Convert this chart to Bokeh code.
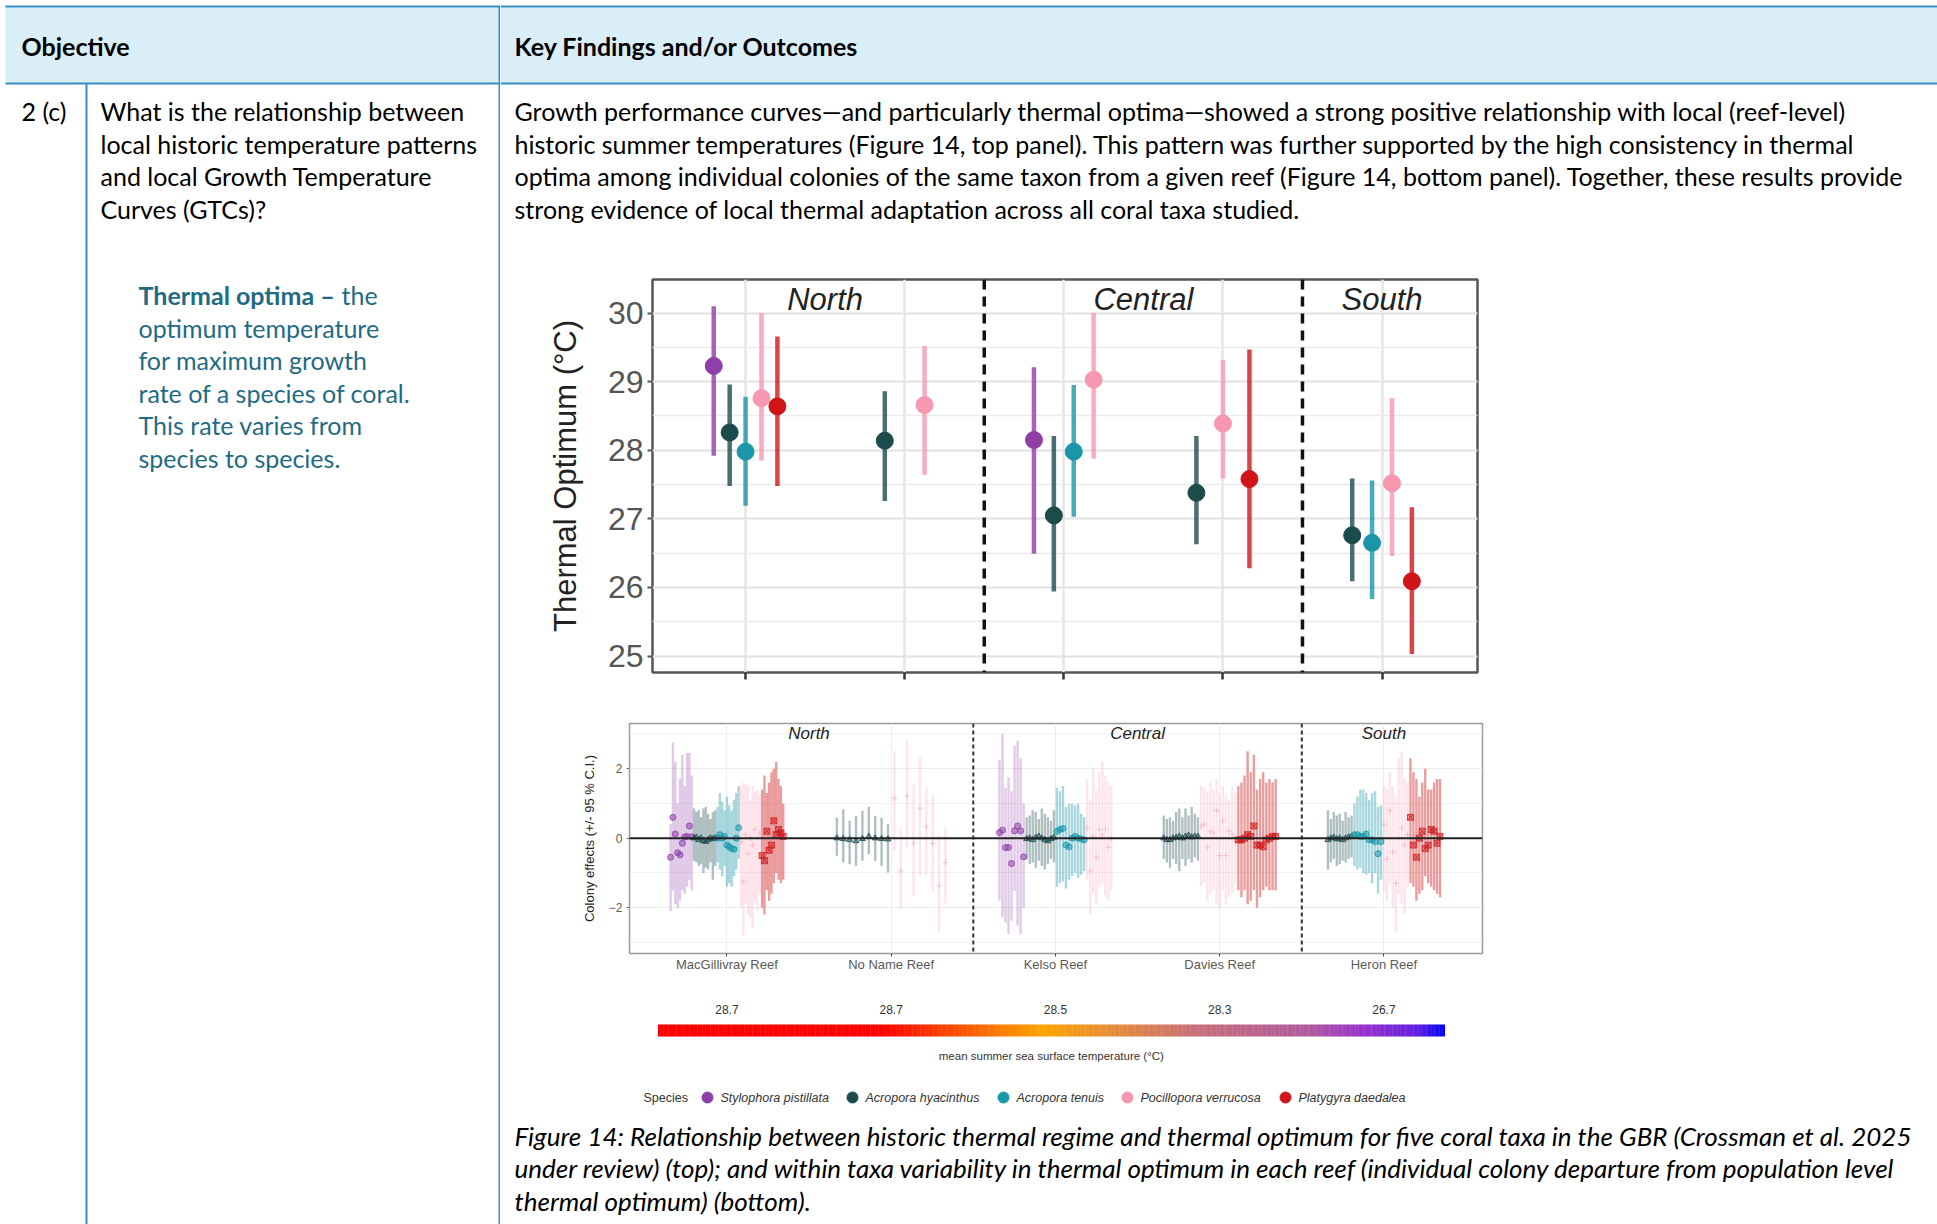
from bokeh.plotting import figure
from bokeh.layouts import row, column
from bokeh.models import Range1d, FixedTicker, SingleIntervalTicker, Span
from bokeh.core.properties import value
from bokeh.embed import file_html
from bokeh.resources import INLINE

# ---------------- data ----------------
REEFS = ["MacGillivray Reef", "No Name Reef", "Kelso Reef", "Davies Reef", "Heron Reef"]
REGIONS = ["North", "North", "Central", "Central", "South"]
SST = [28.7, 28.7, 28.5, 28.3, 26.7]
SPECIES = ["Stylophora pistillata", "Acropora hyacinthus", "Acropora tenuis",
           "Pocillopora verrucosa", "Platygyra daedalea"]
SPECIES_COLORS = ["#8e3fa8", "#1c4b4c", "#1a96a8", "#f797b0", "#cf1518"]

# top panel: population-level thermal optimum with CI
TOP_REEF = [0, 0, 0, 0, 0, 1, 1, 2, 2, 2, 2, 3, 3, 3, 4, 4, 4, 4]
TOP_SPECIES = [0, 1, 2, 3, 4, 1, 3, 0, 1, 2, 3, 1, 3, 4, 1, 2, 3, 4]
TOP_OPT = [29.23, 28.26, 27.98, 28.76, 28.64, 28.14, 28.66, 28.15, 27.05, 27.98, 29.03,
           27.38, 28.39, 27.58, 26.76, 26.65, 27.52, 26.09]
TOP_LO = [27.92, 27.48, 27.19, 27.85, 27.48, 27.26, 27.64, 26.49, 25.94, 27.03, 27.88,
          26.63, 27.59, 26.28, 26.09, 25.83, 26.46, 25.03]
TOP_HI = [30.10, 28.96, 28.78, 30.00, 29.66, 28.86, 29.52, 29.21, 28.21, 28.95, 30.00,
          28.21, 29.32, 29.47, 27.59, 27.56, 28.76, 27.17]

# bottom panel: colony effects (estimate, lower, upper) per reef x species
MAC_STY_EST = [-0.55, 0.60, 0.12, -0.42, -0.48, -0.15, 0.03, 0.05, 0.35, 0.04]
MAC_STY_LO = [-2.1, -1.5, -1.9, -2.0, -1.8, -1.5, -1.6, -1.4, -1.2, -1.5]
MAC_STY_HI = [0.4, 2.75, 2.2, 1.0, 1.7, 2.4, 1.5, 2.45, 2.45, 1.8]
MAC_AHY_EST = [0.0, 0.02, -0.05, 0.0, -0.08, -0.1, -0.05, 0.0, -0.02, 0.0]
MAC_AHY_LO = [-0.65, -0.7, -0.8, -0.75, -1.0, -0.85, -0.9, -0.7, -1.2, -0.8]
MAC_AHY_HI = [0.85, 0.75, 0.8, 0.6, 0.85, 0.9, 0.7, 0.55, 0.75, 0.8]
MAC_ATE_EST = [0.0, 0.1, 0.0, 0.05, -0.2, -0.25, -0.3, -0.32, 0.0, 0.3]
MAC_ATE_LO = [-0.7, -0.9, -1.1, -0.8, -1.4, -1.3, -1.4, -1.1, -0.9, -0.6]
MAC_ATE_HI = [0.9, 1.3, 1.05, 0.8, 1.2, 0.95, 0.8, 1.1, 1.3, 1.5]
MAC_PVE_EST = [-0.1, -1.25, 0.1, -0.45, 0.0, -0.2, 0.25, 0.0, 0.15]
MAC_PVE_LO = [-2.0, -2.8, -1.9, -2.2, -2.3, -2.6, -1.8, -2.1, -1.6]
MAC_PVE_HI = [1.5, 1.6, 1.55, 1.5, 1.1, 1.5, 1.35, 1.4, 1.25]
MAC_PDA_EST = [-0.5, -0.65, 0.2, -0.35, -0.2, 0.5, 0.1, 0.25, 0.15, 0.05]
MAC_PDA_LO = [-2.0, -2.2, -1.5, -1.8, -1.6, -1.3, -1.0, -1.2, -1.3, -1.2]
MAC_PDA_HI = [1.4, 1.8, 1.3, 1.6, 1.9, 2.0, 2.2, 1.7, 1.5, 1.0]
NON_AHY_EST = [0.0, -0.02, -0.05, -0.08, -0.02, 0.05, 0.0, -0.02, -0.03]
NON_AHY_LO = [-0.51, -0.70, -0.75, -0.80, -0.65, -0.46, -0.65, -0.80, -0.99]
NON_AHY_HI = [0.59, 0.83, 0.50, 0.64, 0.79, 0.90, 0.64, 0.59, 0.40]
NON_PVE_EST = [1.15, -0.94, 1.22, -0.15, 0.86, 0.33, -0.15, -1.37, -0.70]
NON_PVE_LO = [-0.36, -2.04, -0.27, -1.66, -1.08, -1.04, -1.52, -2.67, -1.88]
NON_PVE_HI = [2.51, 0.26, 2.80, 1.55, 2.32, 1.46, 1.22, 0.07, 0.29]
KEL_STY_EST = [0.16, 0.23, -0.27, -0.27, -0.73, 0.21, 0.35, 0.21, -0.54]
KEL_STY_LO = [-1.8, -2.28, -2.43, -2.76, -2.38, -1.52, -2.52, -2.76, -2.0]
KEL_STY_HI = [2.25, 3.0, 1.45, 1.75, 1.35, 2.65, 2.8, 2.3, 1.0]
KEL_AHY_EST = [-0.02, 0.0, -0.05, 0.02, 0.05, 0.0, -0.05, -0.08, -0.02, 0.02]
KEL_AHY_LO = [-0.6, -0.75, -0.7, -0.85, -0.65, -0.8, -0.9, -0.75, -0.6, -0.7]
KEL_AHY_HI = [0.6, 0.65, 0.8, 0.75, 0.55, 0.85, 0.7, 0.6, 0.5, 0.8]
KEL_ATE_EST = [0.2, 0.25, 0.28, -0.2, -0.25, 0.0, 0.05, 0.0, -0.02, -0.05]
KEL_ATE_LO = [-1.4, -1.3, -1.25, -1.45, -1.2, -1.1, -1.0, -1.15, -1.05, -0.95]
KEL_ATE_HI = [1.45, 1.35, 1.5, 0.9, 1.0, 1.0, 0.95, 1.0, 0.7, 0.6]
KEL_PVE_EST = [0.3, -0.95, 0.05, -0.55, 0.25, 0.1, 0.26, -0.27, 0.0]
KEL_PVE_LO = [-1.2, -2.2, -1.6, -1.9, -1.4, -1.3, -1.7, -1.8, -1.5]
KEL_PVE_HI = [1.7, 1.1, 2.0, 1.4, 1.9, 2.2, 1.8, 1.6, 1.5]
DAV_AHY_EST = [0.0, -0.05, -0.05, 0.0, 0.02, 0.05, 0.0, 0.05, 0.08, 0.03, 0.05, 0.05]
DAV_AHY_LO = [-0.6, -0.7, -0.85, -0.6, -0.75, -0.95, -0.6, -0.8, -0.6, -0.7, -0.55, -0.65]
DAV_AHY_HI = [0.65, 0.55, 0.6, 0.5, 0.75, 0.85, 0.6, 0.85, 0.65, 0.9, 0.7, 0.6]
DAV_PVE_EST = [0.35, 0.4, -0.25, 0.2, 0.15, 0.8, -0.5, 0.5, -0.5, 0.2, 0.1, -0.1]
DAV_PVE_LO = [-1.4, -1.3, -1.8, -1.6, -1.5, -1.9, -2.0, -1.5, -1.9, -1.7, -1.6, -1.3]
DAV_PVE_HI = [1.5, 1.45, 1.3, 1.6, 1.4, 1.7, 1.3, 1.5, 1.2, 1.1, 1.5, 1.3]
DAV_PDA_EST = [-0.05, -0.05, 0.0, 0.1, 0.05, 0.35, -0.2, -0.2, -0.25, -0.05, 0.0, 0.05, 0.05]
DAV_PDA_LO = [-1.5, -1.7, -1.5, -1.9, -1.8, -1.5, -2.0, -1.7, -1.5, -1.4, -1.5, -1.5, -1.5]
DAV_PDA_HI = [1.5, 1.6, 1.8, 2.5, 1.9, 2.4, 1.4, 1.7, 1.9, 1.6, 1.7, 1.6, 1.7]
HER_AHY_EST = [-0.05, 0.0, 0.02, -0.03, 0.0, -0.05, 0.0, 0.03, 0.05]
HER_AHY_LO = [-0.9, -0.7, -0.6, -0.8, -0.75, -0.65, -0.7, -0.6, -0.55]
HER_AHY_HI = [0.8, 0.55, 0.75, 0.65, 0.7, 0.5, 0.75, 0.6, 0.65]
HER_ATE_EST = [0.1, 0.1, 0.05, 0.05, 0.12, -0.05, -0.05, -0.1, -0.45, -0.1]
HER_ATE_LO = [-0.8, -0.9, -0.85, -1.0, -1.05, -1.0, -1.3, -1.0, -1.6, -1.2]
HER_ATE_HI = [1.0, 1.2, 1.4, 1.4, 1.3, 1.1, 1.3, 1.35, 0.9, 0.95]
HER_PVE_EST = [0.4, -0.6, 0.8, -0.4, -1.3, 0.0, 0.3, -0.2, 0.1]
HER_PVE_LO = [-1.5, -1.8, -1.3, -2.0, -2.7, -1.6, -1.9, -2.2, -1.4]
HER_PVE_HI = [1.5, 1.4, 1.9, 1.5, 1.2, 2.3, 2.5, 1.7, 1.6]
HER_PDA_EST = [0.6, -0.2, -0.55, 0.0, 0.2, -0.3, -0.2, 0.25, 0.2, -0.15, 0.05]
HER_PDA_LO = [-1.3, -1.4, -1.8, -1.6, -1.5, -1.1, -1.3, -1.4, -1.5, -1.6, -1.7]
HER_PDA_HI = [2.3, 1.9, 1.7, 1.2, 1.6, 2.0, 1.4, 1.4, 1.6, 1.7, 1.7]

COLONY_GROUPS = [
    (0, 0, MAC_STY_EST, MAC_STY_LO, MAC_STY_HI), (0, 1, MAC_AHY_EST, MAC_AHY_LO, MAC_AHY_HI),
    (0, 2, MAC_ATE_EST, MAC_ATE_LO, MAC_ATE_HI), (0, 3, MAC_PVE_EST, MAC_PVE_LO, MAC_PVE_HI),
    (0, 4, MAC_PDA_EST, MAC_PDA_LO, MAC_PDA_HI),
    (1, 1, NON_AHY_EST, NON_AHY_LO, NON_AHY_HI), (1, 3, NON_PVE_EST, NON_PVE_LO, NON_PVE_HI),
    (2, 0, KEL_STY_EST, KEL_STY_LO, KEL_STY_HI), (2, 1, KEL_AHY_EST, KEL_AHY_LO, KEL_AHY_HI),
    (2, 2, KEL_ATE_EST, KEL_ATE_LO, KEL_ATE_HI), (2, 3, KEL_PVE_EST, KEL_PVE_LO, KEL_PVE_HI),
    (3, 1, DAV_AHY_EST, DAV_AHY_LO, DAV_AHY_HI), (3, 3, DAV_PVE_EST, DAV_PVE_LO, DAV_PVE_HI),
    (3, 4, DAV_PDA_EST, DAV_PDA_LO, DAV_PDA_HI),
    (4, 1, HER_AHY_EST, HER_AHY_LO, HER_AHY_HI), (4, 2, HER_ATE_EST, HER_ATE_LO, HER_ATE_HI),
    (4, 3, HER_PVE_EST, HER_PVE_LO, HER_PVE_HI), (4, 4, HER_PDA_EST, HER_PDA_LO, HER_PDA_HI),
]

# colour bar stops (position on reef axis, colour)
GRAD_POS = [0.58, 1.93, 2.92, 3.83, 4.55, 4.87, 5.2, 5.37]
GRAD_COL = ["#ff0000", "#ff0000", "#ffa500", "#c87078", "#b05aa0", "#9932cc", "#6020e0", "#0000ff"]

# ---------------- text ----------------
HEAD_LEFT = "Objective"
HEAD_RIGHT = "Key Findings and/or Outcomes"
OBJ_ID = "2 (c)"
OBJ_LINES = ["What is the relationship between", "local historic temperature patterns",
             "and local Growth Temperature", "Curves (GTCs)?"]
DEF_BOLD = "Thermal optima \u2013"
DEF_FIRST = "the"
DEF_LINES = ["optimum temperature", "for maximum growth", "rate of a species of coral.",
             "This rate varies from", "species to species."]
PARA_LINES = [
    "Growth performance curves\u2014and particularly thermal optima\u2014showed a strong positive relationship with local (reef-level)",
    "historic summer temperatures (Figure 14, top panel). This pattern was further supported by the high consistency in thermal",
    "optima among individual colonies of the same taxon from a given reef (Figure 14, bottom panel). Together, these results provide",
    "strong evidence of local thermal adaptation across all coral taxa studied.",
]
CAPTION_LINES = [
    "Figure 14: Relationship between historic thermal regime and thermal optimum for five coral taxa in the GBR (Crossman et al. 2025",
    "under review) (top); and within taxa variability in thermal optimum in each reef (individual colony departure from population level",
    "thermal optimum) (bottom).",
]

LINE_BLUE = "#3590c4"
HEAD_BG = "#daeef7"
TEAL_TXT = "#1f6b85"
BODY_FONT = "Lato"
BODY_SIZE = "25px"
CAPTION_SIZE = "26px"
CHART_FONT = "Liberation Sans"
LINE_Y = [110.5, 143, 175.5, 208]


def blank(width, height, xr, yr):
    p = figure(width=width, height=height, x_range=Range1d(*xr), y_range=Range1d(*yr),
               output_backend="svg", toolbar_location=None, min_border=0)
    p.axis.visible = False
    p.grid.visible = False
    p.outline_line_color = None
    p.background_fill_color = "white"
    p.border_fill_color = "white"
    p.frame_align = False
    return p


def txt(p, xs, ys, texts, size=BODY_SIZE, color="#000000", style="normal", font=BODY_FONT,
        align="left", baseline="middle", angle=0):
    p.text(x=xs, y=ys, text=texts, text_font=value(font), text_font_size=value(size),
           text_font_style=style, text_color=color, text_align=align, text_baseline=baseline,
           angle=angle)


# ---------------- left column (page x 0..500) ----------------
left = blank(500, 1224, (0, 500), (1224, 0))
left.quad(left=[5], right=[500], top=[6], bottom=[83], fill_color=HEAD_BG, line_color=None)
left.segment(x0=[5, 5, 499, 86], y0=[6, 83, 6, 83], x1=[500, 500, 499, 86], y1=[6, 83, 1224, 1224],
             line_color=LINE_BLUE, line_width=2)
txt(left, [21], [45], [HEAD_LEFT], style="bold")
txt(left, [21], [LINE_Y[0]], [OBJ_ID])
txt(left, [100] * len(OBJ_LINES), LINE_Y, OBJ_LINES)
DEF_Y = [294.5 + 32.5 * i for i in range(len(DEF_LINES) + 1)]
txt(left, [138], [DEF_Y[0]], [DEF_BOLD], color=TEAL_TXT, style="bold")
txt(left, [341], [DEF_Y[0]], [DEF_FIRST], color=TEAL_TXT)
txt(left, [138] * len(DEF_LINES), DEF_Y[1:], DEF_LINES, color=TEAL_TXT)

# ---------------- right top (page x 500..1937, y 0..247) ----------------
rtop = blank(1437, 247, (500, 1937), (247, 0))
rtop.quad(left=[500], right=[1937], top=[6], bottom=[83], fill_color=HEAD_BG, line_color=None)
rtop.segment(x0=[500, 500], y0=[6, 83], x1=[1937, 1937], y1=[6, 83], line_color=LINE_BLUE, line_width=2)
txt(rtop, [514], [45], [HEAD_RIGHT], style="bold")
txt(rtop, [514] * len(PARA_LINES), LINE_Y, PARA_LINES)

# ---------------- top chart ----------------
reef_x = [i + 1 for i in range(len(REEFS))]
top_x = []
for k in range(len(TOP_OPT)):
    r = TOP_REEF[k]
    present = [TOP_SPECIES[j] for j in range(len(TOP_OPT)) if TOP_REEF[j] == r]
    n = len(present)
    pos = present.index(TOP_SPECIES[k])
    top_x.append(reef_x[r] + (pos - (n - 1) / 2) * (0.5 / n))
top_col = [SPECIES_COLORS[s] for s in TOP_SPECIES]

region_names = []
for g in REGIONS:
    if g not in region_names:
        region_names.append(g)
region_centers = [sum(reef_x[i] for i in range(len(REEFS)) if REGIONS[i] == g) /
                  sum(1 for i in range(len(REEFS)) if REGIONS[i] == g) for g in region_names]
region_breaks = [reef_x[i] + 0.5 for i in range(len(REEFS) - 1) if REGIONS[i] != REGIONS[i + 1]]

pt = figure(width=1437, height=453, x_range=Range1d(0.415, 5.6), y_range=Range1d(24.76, 30.49),
            output_backend="svg", toolbar_location=None,
            min_border_left=152, min_border_right=460, min_border_top=32, min_border_bottom=28)
pt.frame_align = False
pt.background_fill_color = "white"
pt.border_fill_color = "white"
pt.outline_line_color = "#555555"
pt.outline_line_width = 2.5
pt.xaxis.ticker = FixedTicker(ticks=reef_x)
pt.xaxis.major_label_overrides = {x: "" for x in reef_x}
pt.xaxis.major_label_text_font_size = "8px"
pt.xaxis.axis_line_color = None
pt.xaxis.major_tick_line_color = "#333333"
pt.xaxis.major_tick_line_width = 2.5
pt.xaxis.major_tick_out = 7
pt.xaxis.major_tick_in = 0
pt.xaxis.minor_tick_line_color = None
pt.yaxis.ticker = SingleIntervalTicker(interval=1, num_minor_ticks=2)
pt.yaxis.axis_line_color = None
pt.yaxis.major_tick_line_color = "#555555"
pt.yaxis.major_tick_line_width = 2
pt.yaxis.major_tick_out = 5
pt.yaxis.major_tick_in = 0
pt.yaxis.minor_tick_line_color = None
pt.yaxis.major_label_text_font = CHART_FONT
pt.yaxis.major_label_text_font_size = "32px"
pt.yaxis.major_label_text_color = "#555555"
pt.yaxis.major_label_standoff = 4
pt.yaxis.axis_label = "Thermal Optimum (\u00b0C)"
pt.yaxis.axis_label_text_font = CHART_FONT
pt.yaxis.axis_label_text_font_size = "31px"
pt.yaxis.axis_label_text_font_style = "normal"
pt.yaxis.axis_label_text_color = "#222222"
pt.yaxis.axis_label_standoff = 22
pt.ygrid.grid_line_color = "#e3e3e3"
pt.ygrid.grid_line_width = 2
pt.ygrid.minor_grid_line_color = "#ececec"
pt.ygrid.minor_grid_line_width = 1.5
pt.xgrid.grid_line_color = "#e6e6e6"
pt.xgrid.grid_line_width = 2.5
for b in region_breaks:
    pt.add_layout(Span(location=b, dimension="height", line_color="#111111", line_width=3.5,
                       line_dash="10 7"))
pt.segment(x0=top_x, y0=TOP_LO, x1=top_x, y1=TOP_HI, line_color=top_col, line_width=4.5, line_alpha=0.8)
pt.scatter(x=top_x, y=TOP_OPT, size=17, fill_color=top_col, line_color=top_col)
txt(pt, region_centers, [30.2] * len(region_names), region_names, size="31px", color="#222222",
    style="italic", font=CHART_FONT, align="center")

# ---------------- bottom chart ----------------
col_x, col_est, col_lo, col_hi, col_sp = [], [], [], [], []
for r in range(len(REEFS)):
    groups = [g for g in COLONY_GROUPS if g[0] == r]
    total = sum(len(g[2]) for g in groups)
    i = 0
    for g in groups:
        for j in range(len(g[2])):
            col_x.append(reef_x[r] - 0.35 + (i + 0.5) * 0.7 / total)
            col_est.append(g[2][j])
            col_lo.append(g[3][j])
            col_hi.append(g[4][j])
            col_sp.append(g[1])
            i += 1

pb = figure(width=1437, height=300, x_range=Range1d(0.407, 5.60), y_range=Range1d(-3.32, 3.30),
            output_backend="svg", toolbar_location=None,
            min_border_left=129, min_border_right=455, min_border_top=23, min_border_bottom=47)
pb.frame_align = False
pb.background_fill_color = "white"
pb.border_fill_color = "white"
pb.outline_line_color = "#9a9a9a"
pb.outline_line_width = 1.5
pb.xaxis.ticker = FixedTicker(ticks=reef_x)
pb.xaxis.major_label_overrides = {reef_x[i]: REEFS[i] for i in range(len(REEFS))}
pb.xaxis.major_label_text_font = CHART_FONT
pb.xaxis.major_label_text_font_size = "13px"
pb.xaxis.major_label_text_color = "#5a5a5a"
pb.xaxis.major_label_standoff = 0
pb.xaxis.axis_line_color = None
pb.xaxis.major_tick_line_color = "#444444"
pb.xaxis.major_tick_out = 3
pb.xaxis.major_tick_in = 0
pb.xaxis.minor_tick_line_color = None
pb.yaxis.ticker = SingleIntervalTicker(interval=2, num_minor_ticks=2)
pb.yaxis.axis_line_color = None
pb.yaxis.major_tick_line_color = "#666666"
pb.yaxis.major_tick_out = 3
pb.yaxis.major_tick_in = 0
pb.yaxis.minor_tick_line_color = None
pb.yaxis.major_label_text_font = CHART_FONT
pb.yaxis.major_label_text_font_size = "12px"
pb.yaxis.major_label_text_color = "#5a5a5a"
pb.yaxis.major_label_standoff = 3
pb.yaxis.axis_label = "Colony effects (+/- 95 % C.I.)"
pb.yaxis.axis_label_text_font = CHART_FONT
pb.yaxis.axis_label_text_font_size = "13px"
pb.yaxis.axis_label_text_font_style = "normal"
pb.yaxis.axis_label_text_color = "#222222"
pb.yaxis.axis_label_standoff = 9
pb.ygrid.grid_line_color = "#ececec"
pb.ygrid.minor_grid_line_color = "#f2f2f2"
pb.xgrid.grid_line_color = "#eeeeee"
for b in region_breaks:
    pb.add_layout(Span(location=b, dimension="height", line_color="#333333", line_width=2,
                       line_dash="4 3"))
BAR_ALPHA = [0.28, 0.35, 0.38, 0.25, 0.42]
MARKERS = ["circle", "triangle", "circle", "cross", "square_x"]
MARK_ALPHA = [0.85, 0.8, 0.85, 0.45, 0.7]
for s in range(len(SPECIES)):
    idx = [k for k in range(len(col_x)) if col_sp[k] == s]
    xs = [col_x[k] for k in idx]
    pb.segment(x0=xs, y0=[col_lo[k] for k in idx], x1=xs, y1=[col_hi[k] for k in idx],
               line_color=SPECIES_COLORS[s], line_width=2.4, line_alpha=BAR_ALPHA[s])
pb.add_layout(Span(location=0, dimension="width", line_color="#222222", line_width=2))
for s in range(len(SPECIES)):
    idx = [k for k in range(len(col_x)) if col_sp[k] == s]
    pb.scatter(x=[col_x[k] for k in idx], y=[col_est[k] for k in idx], marker=MARKERS[s], size=6,
               fill_color=SPECIES_COLORS[s], line_color=SPECIES_COLORS[s],
               fill_alpha=MARK_ALPHA[s] * 0.6, line_alpha=MARK_ALPHA[s])
txt(pb, region_centers, [3.0] * len(region_names), region_names, size="17px", color="#222222",
    style="italic", font=CHART_FONT, align="center")

# ---------------- colour bar ----------------
pc = figure(width=1437, height=70, x_range=Range1d(0.407, 5.60), y_range=Range1d(1070, 1000),
            output_backend="svg", toolbar_location=None,
            min_border_left=129, min_border_right=455, min_border_top=0, min_border_bottom=0)
pc.frame_align = False
pc.axis.visible = False
pc.grid.visible = False
pc.outline_line_color = None
pc.background_fill_color = "white"
pc.border_fill_color = "white"


def hex_rgb(h):
    return tuple(int(h[i:i + 2], 16) for i in (1, 3, 5))


NSLICE = 300
x0s, x1s, cols = [], [], []
for i in range(NSLICE):
    a = GRAD_POS[0] + (GRAD_POS[-1] - GRAD_POS[0]) * i / NSLICE
    b = GRAD_POS[0] + (GRAD_POS[-1] - GRAD_POS[0]) * (i + 1) / NSLICE
    m = (a + b) / 2
    for j in range(len(GRAD_POS) - 1):
        if GRAD_POS[j] <= m <= GRAD_POS[j + 1]:
            t = (m - GRAD_POS[j]) / (GRAD_POS[j + 1] - GRAD_POS[j])
            c0, c1 = hex_rgb(GRAD_COL[j]), hex_rgb(GRAD_COL[j + 1])
            c = tuple(int(round(c0[k] + (c1[k] - c0[k]) * t)) for k in range(3))
            break
    x0s.append(a)
    x1s.append(b + 0.002)
    cols.append("#%02x%02x%02x" % c)
pc.quad(left=x0s, right=x1s, top=[1024] * NSLICE, bottom=[1036] * NSLICE, fill_color=cols, line_color=None)
txt(pc, reef_x, [1009] * len(REEFS), ["%.1f" % v for v in SST], size="12px", color="#333333",
    font=CHART_FONT, align="center")
txt(pc, [(GRAD_POS[0] + GRAD_POS[-1]) / 2], [1055], ["mean summer sea surface temperature (\u00b0C)"],
    size="11.5px", color="#333333", font=CHART_FONT, align="center")

# ---------------- legend + caption ----------------
pl = blank(1437, 154, (500, 1937), (1224, 1070))
LEG_X = [707, 852, 1003, 1127, 1285]
txt(pl, [643], [1097], ["Species"], size="12.5px", color="#333333", font=CHART_FONT)
pl.scatter(x=LEG_X, y=[1097] * 5, size=11, fill_color=SPECIES_COLORS, line_color=SPECIES_COLORS)
txt(pl, [x + 13 for x in LEG_X], [1097] * 5, SPECIES, size="12.5px", color="#333333",
    style="italic", font=CHART_FONT)
txt(pl, [514] * 3, [1135, 1167.5, 1200], CAPTION_LINES, size=CAPTION_SIZE, style="italic")

layout = row(left, column(rtop, pt, pb, pc, pl, spacing=0), spacing=0)
open("out.html", "w").write(file_html(layout, INLINE))
